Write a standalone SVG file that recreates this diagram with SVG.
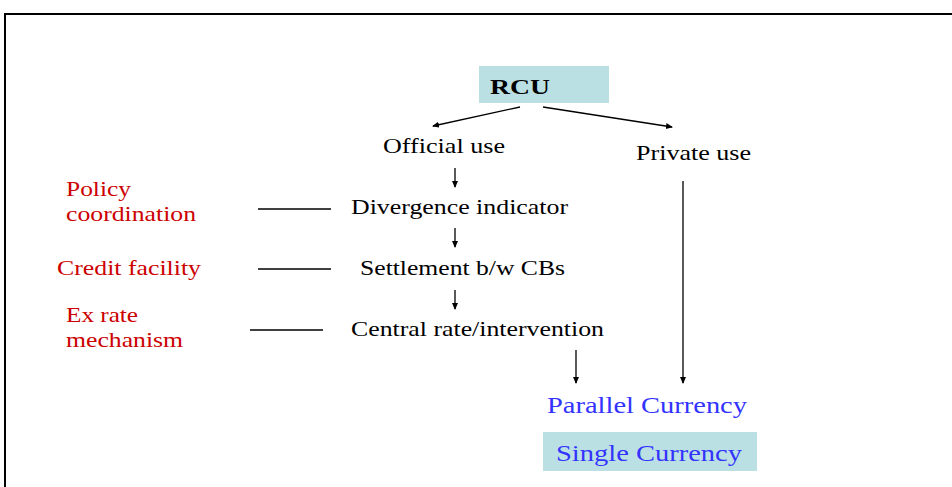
<svg xmlns="http://www.w3.org/2000/svg" width="952" height="487" viewBox="0 0 952 487">
<style>
text{font-family:"Liberation Serif","Times New Roman",serif;font-size:22px;fill:#000}
.red{fill:#cc0000;font-size:21px}
.blue{fill:#3333ff;font-size:24px}
.box{fill:#bbe0e3}
.conn line{stroke:#000;stroke-width:1.3}
.arr{marker-end:url(#ah)}
</style>
<defs>
<marker id="ah" markerWidth="8" markerHeight="8" refX="6" refY="3" orient="auto" markerUnits="userSpaceOnUse">
<path d="M0,0 L7,3 L0,6 Z" fill="#000"/>
</marker>
</defs>
<rect width="952" height="487" fill="#fff"/>
<path d="M5,487 V14 H952" fill="none" stroke="#000" stroke-width="2"/>
<g id="rcu"><rect class="box" x="479" y="66" width="130" height="37"/><text x="490" y="94" textLength="60" lengthAdjust="spacingAndGlyphs" style="font-weight:bold">RCU</text></g>
<g id="official"><text x="383" y="153" textLength="122" lengthAdjust="spacingAndGlyphs">Official use</text></g>
<g id="private"><text x="636" y="160" textLength="115" lengthAdjust="spacingAndGlyphs">Private use</text></g>
<g id="divergence"><text x="351" y="214" textLength="217" lengthAdjust="spacingAndGlyphs">Divergence indicator</text></g>
<g id="settlement"><text x="360" y="275" textLength="205" lengthAdjust="spacingAndGlyphs">Settlement b/w CBs</text></g>
<g id="central"><text x="351" y="336" textLength="253" lengthAdjust="spacingAndGlyphs">Central rate/intervention</text></g>
<g id="policy"><text class="red" x="66" y="196" textLength="65" lengthAdjust="spacingAndGlyphs">Policy</text><text class="red" x="66" y="221" textLength="130" lengthAdjust="spacingAndGlyphs">coordination</text></g>
<g id="credit"><text class="red" x="57" y="275" textLength="144" lengthAdjust="spacingAndGlyphs">Credit facility</text></g>
<g id="exrate"><text class="red" x="66" y="322" textLength="72" lengthAdjust="spacingAndGlyphs">Ex rate</text><text class="red" x="66" y="347" textLength="117" lengthAdjust="spacingAndGlyphs">mechanism</text></g>
<g id="parallel"><text class="blue" x="547" y="413" textLength="200" lengthAdjust="spacingAndGlyphs">Parallel Currency</text></g>
<g id="single"><rect class="box" x="543" y="432" width="214" height="39"/><text class="blue" x="556" y="461" textLength="186" lengthAdjust="spacingAndGlyphs">Single Currency</text></g>
<g class="conn" id="connectors">
<line class="arr" x1="520" y1="107" x2="433" y2="126"/>
<line class="arr" x1="543" y1="107" x2="672" y2="127"/>
<line class="arr" x1="455" y1="168" x2="455" y2="187"/>
<line class="arr" x1="455" y1="228" x2="455" y2="247"/>
<line class="arr" x1="455" y1="290" x2="455" y2="309"/>
<line class="arr" x1="576" y1="350" x2="576" y2="383"/>
<line class="arr" x1="683" y1="181" x2="683" y2="383"/>
<line x1="258" y1="209" x2="331" y2="209"/>
<line x1="258" y1="269" x2="331" y2="269"/>
<line x1="250" y1="330" x2="323" y2="330"/>
</g>
</svg>
